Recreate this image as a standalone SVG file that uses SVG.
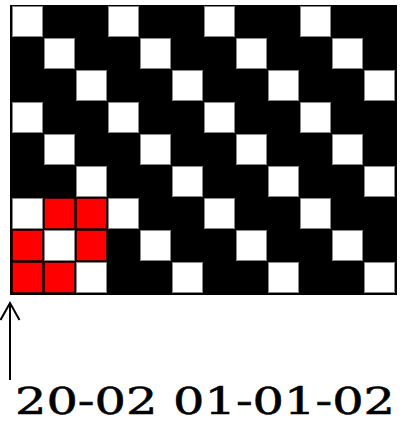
<svg xmlns="http://www.w3.org/2000/svg" width="403" height="423" viewBox="0 0 403 423">
<style>
.w{fill:#fff;stroke:#888;stroke-width:1}
.r{fill:#f00;stroke:#400;stroke-width:1}
.lbl{font-family:"DejaVu Serif","Liberation Serif",serif;font-size:37px;fill:#000;stroke:#000;stroke-width:0.6}
</style>
<defs>
<rect id="c" width="30" height="30"/>
</defs>
<rect width="403" height="423" fill="#fff"/>
<g id="grid">
<rect x="10" y="5" width="387" height="290" fill="#000"/>
<g id="row0"><use href="#c" class="w" x="12.5" y="6.5"/><use href="#c" class="w" x="108.5" y="6.5"/><use href="#c" class="w" x="204.5" y="6.5"/><use href="#c" class="w" x="300.5" y="6.5"/></g>
<g id="row1"><use href="#c" class="w" x="44.5" y="38.5"/><use href="#c" class="w" x="140.5" y="38.5"/><use href="#c" class="w" x="236.5" y="38.5"/><use href="#c" class="w" x="332.5" y="38.5"/></g>
<g id="row2"><use href="#c" class="w" x="76.5" y="70.5"/><use href="#c" class="w" x="172.5" y="70.5"/><use href="#c" class="w" x="268.5" y="70.5"/><use href="#c" class="w" x="364.5" y="70.5"/></g>
<g id="row3"><use href="#c" class="w" x="12.5" y="102.5"/><use href="#c" class="w" x="108.5" y="102.5"/><use href="#c" class="w" x="204.5" y="102.5"/><use href="#c" class="w" x="300.5" y="102.5"/></g>
<g id="row4"><use href="#c" class="w" x="44.5" y="134.5"/><use href="#c" class="w" x="140.5" y="134.5"/><use href="#c" class="w" x="236.5" y="134.5"/><use href="#c" class="w" x="332.5" y="134.5"/></g>
<g id="row5"><use href="#c" class="w" x="76.5" y="166.5"/><use href="#c" class="w" x="172.5" y="166.5"/><use href="#c" class="w" x="268.5" y="166.5"/><use href="#c" class="w" x="364.5" y="166.5"/></g>
<g id="row6"><use href="#c" class="w" x="12.5" y="198.5"/><use href="#c" class="r" x="44.5" y="198.5"/><use href="#c" class="r" x="76.5" y="198.5"/><use href="#c" class="w" x="108.5" y="198.5"/><use href="#c" class="w" x="204.5" y="198.5"/><use href="#c" class="w" x="300.5" y="198.5"/></g>
<g id="row7"><use href="#c" class="r" x="12.5" y="230.5"/><use href="#c" class="w" x="44.5" y="230.5"/><use href="#c" class="r" x="76.5" y="230.5"/><use href="#c" class="w" x="140.5" y="230.5"/><use href="#c" class="w" x="236.5" y="230.5"/><use href="#c" class="w" x="332.5" y="230.5"/></g>
<g id="row8"><use href="#c" class="r" x="12.5" y="262.5"/><use href="#c" class="r" x="44.5" y="262.5"/><use href="#c" class="w" x="76.5" y="262.5"/><use href="#c" class="w" x="172.5" y="262.5"/><use href="#c" class="w" x="268.5" y="262.5"/><use href="#c" class="w" x="364.5" y="262.5"/></g>
</g>
<g id="connectors" fill="none" stroke="#000" stroke-width="2">
<line x1="10" y1="380" x2="10" y2="303"/>
<polyline points="0.5,320 10,303 19.5,320"/>
</g>
<g id="label">
<text class="lbl" x="15" y="414" textLength="380" lengthAdjust="spacingAndGlyphs">20-02 01-01-02</text>
</g>
</svg>
